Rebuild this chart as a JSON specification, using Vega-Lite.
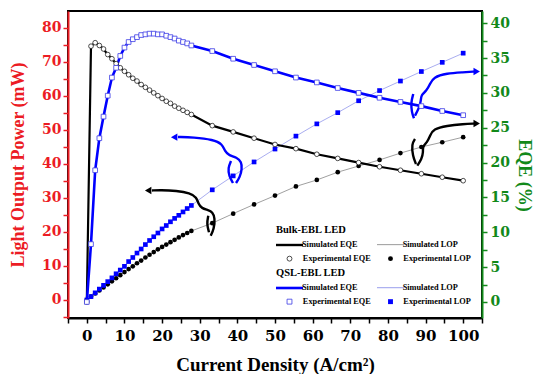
{
  "$schema": "https://vega.github.io/schema/vega-lite/v6.json",
  "width": 414,
  "height": 307,
  "padding": {"left": 9, "top": 11, "right": 0, "bottom": 0},
  "autosize": {"type": "pad"},
  "background": "white",
  "datasets": {
    "bulk": [
      {"j": 0, "eqe": 0, "lop": 0},
      {"j": 1.11, "eqe": 36.7, "lop": 1.0},
      {"j": 2.22, "eqe": 37.2, "lop": 1.9},
      {"j": 3.33, "eqe": 36.8, "lop": 2.8},
      {"j": 4.44, "eqe": 36.3, "lop": 3.7},
      {"j": 5.56, "eqe": 35.5, "lop": 4.6},
      {"j": 6.67, "eqe": 34.9, "lop": 5.5},
      {"j": 7.78, "eqe": 34.2, "lop": 6.4},
      {"j": 8.89, "eqe": 33.6, "lop": 7.3},
      {"j": 10, "eqe": 33.1, "lop": 8.2},
      {"j": 11.11, "eqe": 32.6, "lop": 9.1},
      {"j": 12.22, "eqe": 32.1, "lop": 9.9},
      {"j": 13.33, "eqe": 31.7, "lop": 10.8},
      {"j": 14.44, "eqe": 31.2, "lop": 11.6},
      {"j": 15.56, "eqe": 30.8, "lop": 12.5},
      {"j": 16.67, "eqe": 30.4, "lop": 13.3},
      {"j": 17.78, "eqe": 30.0, "lop": 14.1},
      {"j": 18.89, "eqe": 29.6, "lop": 14.9},
      {"j": 20, "eqe": 29.2, "lop": 15.6},
      {"j": 21.11, "eqe": 28.8, "lop": 16.3},
      {"j": 22.22, "eqe": 28.5, "lop": 17.0},
      {"j": 23.33, "eqe": 28.1, "lop": 17.7},
      {"j": 24.44, "eqe": 27.8, "lop": 18.4},
      {"j": 25.56, "eqe": 27.5, "lop": 19.1},
      {"j": 26.67, "eqe": 27.2, "lop": 19.7},
      {"j": 27.78, "eqe": 26.9, "lop": 20.3},
      {"j": 33.33, "eqe": 25.3, "lop": 22.6},
      {"j": 38.89, "eqe": 24.4, "lop": 25.4},
      {"j": 44.44, "eqe": 23.5, "lop": 28.1},
      {"j": 50, "eqe": 22.6, "lop": 30.7},
      {"j": 55.56, "eqe": 22.0, "lop": 33.4},
      {"j": 61.11, "eqe": 21.2, "lop": 35.3},
      {"j": 66.67, "eqe": 20.6, "lop": 37.6},
      {"j": 72.22, "eqe": 20.0, "lop": 39.4},
      {"j": 77.78, "eqe": 19.4, "lop": 41.2},
      {"j": 83.33, "eqe": 18.9, "lop": 43.2},
      {"j": 88.89, "eqe": 18.4, "lop": 45.0},
      {"j": 94.44, "eqe": 17.9, "lop": 46.4},
      {"j": 100, "eqe": 17.4, "lop": 47.9}
    ],
    "qsl": [
      {"j": 0, "eqe": 0, "lop": 0},
      {"j": 1.11, "eqe": 8.3, "lop": 1.0},
      {"j": 2.22, "eqe": 18.9, "lop": 2.1},
      {"j": 3.33, "eqe": 23.5, "lop": 3.2},
      {"j": 4.44, "eqe": 26.6, "lop": 4.3},
      {"j": 5.56, "eqe": 29.6, "lop": 5.4},
      {"j": 6.67, "eqe": 32.2, "lop": 6.5},
      {"j": 7.78, "eqe": 33.6, "lop": 7.7},
      {"j": 8.89, "eqe": 35.3, "lop": 8.8},
      {"j": 10, "eqe": 36.5, "lop": 9.9},
      {"j": 11.11, "eqe": 37.3, "lop": 11.3},
      {"j": 12.22, "eqe": 37.7, "lop": 12.5},
      {"j": 13.33, "eqe": 38.0, "lop": 13.8},
      {"j": 14.44, "eqe": 38.3, "lop": 15.0},
      {"j": 15.56, "eqe": 38.4, "lop": 16.3},
      {"j": 16.67, "eqe": 38.5, "lop": 17.5},
      {"j": 17.78, "eqe": 38.5, "lop": 18.6},
      {"j": 18.89, "eqe": 38.4, "lop": 19.7},
      {"j": 20, "eqe": 38.4, "lop": 20.9},
      {"j": 21.11, "eqe": 38.2, "lop": 21.9},
      {"j": 22.22, "eqe": 38.0, "lop": 23.0},
      {"j": 23.33, "eqe": 37.8, "lop": 24.0},
      {"j": 24.44, "eqe": 37.5, "lop": 24.9},
      {"j": 25.56, "eqe": 37.3, "lop": 25.9},
      {"j": 26.67, "eqe": 37.1, "lop": 26.9},
      {"j": 27.78, "eqe": 36.8, "lop": 27.8},
      {"j": 33.33, "eqe": 36.0, "lop": 32.4},
      {"j": 38.89, "eqe": 34.9, "lop": 36.5},
      {"j": 44.44, "eqe": 34.0, "lop": 40.6},
      {"j": 50, "eqe": 33.1, "lop": 44.4},
      {"j": 55.56, "eqe": 32.2, "lop": 48.2},
      {"j": 61.11, "eqe": 31.5, "lop": 51.8},
      {"j": 66.67, "eqe": 30.7, "lop": 55.1},
      {"j": 72.22, "eqe": 30.0, "lop": 58.6},
      {"j": 77.78, "eqe": 29.3, "lop": 61.6},
      {"j": 83.33, "eqe": 28.7, "lop": 64.4},
      {"j": 88.89, "eqe": 28.1, "lop": 67.2},
      {"j": 94.44, "eqe": 27.4, "lop": 69.9},
      {"j": 100, "eqe": 26.8, "lop": 72.6}
    ],
    "arrows": [
      {"device": "QSL", "side": "left", "seg": "curve", "i": 0, "j": 24.23, "lop": 47.94},
      {"device": "QSL", "side": "left", "seg": "curve", "i": 1, "j": 28.29, "lop": 47.85},
      {"device": "QSL", "side": "left", "seg": "curve", "i": 2, "j": 33.61, "lop": 47.15},
      {"device": "QSL", "side": "left", "seg": "curve", "i": 3, "j": 36.0, "lop": 45.88},
      {"device": "QSL", "side": "left", "seg": "curve", "i": 4, "j": 36.72, "lop": 43.68},
      {"device": "QSL", "side": "left", "seg": "curve", "i": 5, "j": 37.78, "lop": 42.5},
      {"device": "QSL", "side": "left", "seg": "curve", "i": 6, "j": 39.82, "lop": 41.97},
      {"device": "QSL", "side": "left", "seg": "curve", "i": 7, "j": 41.1, "lop": 40.59},
      {"device": "QSL", "side": "left", "seg": "curve", "i": 8, "j": 41.23, "lop": 38.53},
      {"device": "QSL", "side": "left", "seg": "curve", "i": 9, "j": 40.7, "lop": 36.18},
      {"device": "QSL", "side": "left", "seg": "curve", "i": 10, "j": 39.64, "lop": 34.41},
      {"device": "QSL", "side": "left", "seg": "loop", "i": 0, "j": 38.31, "lop": 40.88},
      {"device": "QSL", "side": "left", "seg": "loop", "i": 1, "j": 37.51, "lop": 38.82},
      {"device": "QSL", "side": "left", "seg": "loop", "i": 2, "j": 37.78, "lop": 36.47},
      {"device": "QSL", "side": "left", "seg": "loop", "i": 3, "j": 38.84, "lop": 34.41},
      {"device": "Bulk", "side": "left", "seg": "curve", "i": 0, "j": 17.32, "lop": 32.21},
      {"device": "Bulk", "side": "left", "seg": "curve", "i": 1, "j": 19.45, "lop": 32.35},
      {"device": "Bulk", "side": "left", "seg": "curve", "i": 2, "j": 23.88, "lop": 32.15},
      {"device": "Bulk", "side": "left", "seg": "curve", "i": 3, "j": 27.42, "lop": 31.47},
      {"device": "Bulk", "side": "left", "seg": "curve", "i": 4, "j": 29.2, "lop": 30.21},
      {"device": "Bulk", "side": "left", "seg": "curve", "i": 5, "j": 29.62, "lop": 28.24},
      {"device": "Bulk", "side": "left", "seg": "curve", "i": 6, "j": 30.53, "lop": 26.97},
      {"device": "Bulk", "side": "left", "seg": "curve", "i": 7, "j": 32.28, "lop": 26.47},
      {"device": "Bulk", "side": "left", "seg": "curve", "i": 8, "j": 33.4, "lop": 25.88},
      {"device": "Bulk", "side": "left", "seg": "curve", "i": 9, "j": 34.06, "lop": 24.12},
      {"device": "Bulk", "side": "left", "seg": "curve", "i": 10, "j": 33.79, "lop": 20.88},
      {"device": "Bulk", "side": "left", "seg": "curve", "i": 11, "j": 32.92, "lop": 18.91},
      {"device": "Bulk", "side": "left", "seg": "loop", "i": 0, "j": 32.28, "lop": 24.79},
      {"device": "Bulk", "side": "left", "seg": "loop", "i": 1, "j": 31.85, "lop": 22.35},
      {"device": "Bulk", "side": "left", "seg": "loop", "i": 2, "j": 32.47, "lop": 19.91},
      {"device": "QSL", "side": "right", "seg": "curve", "i": 0, "j": 103.13, "lop": 67.21},
      {"device": "QSL", "side": "right", "seg": "curve", "i": 1, "j": 100.03, "lop": 66.97},
      {"device": "QSL", "side": "right", "seg": "curve", "i": 2, "j": 95.62, "lop": 66.68},
      {"device": "QSL", "side": "right", "seg": "curve", "i": 3, "j": 92.06, "lop": 65.5},
      {"device": "QSL", "side": "right", "seg": "curve", "i": 4, "j": 91.18, "lop": 63.53},
      {"device": "QSL", "side": "right", "seg": "curve", "i": 5, "j": 90.3, "lop": 61.56},
      {"device": "QSL", "side": "right", "seg": "curve", "i": 6, "j": 88.79, "lop": 60.29},
      {"device": "QSL", "side": "right", "seg": "curve", "i": 7, "j": 88.79, "lop": 58.53},
      {"device": "QSL", "side": "right", "seg": "curve", "i": 8, "j": 88.26, "lop": 56.47},
      {"device": "QSL", "side": "right", "seg": "curve", "i": 9, "j": 87.2, "lop": 54.21},
      {"device": "QSL", "side": "right", "seg": "loop", "i": 0, "j": 86.74, "lop": 60.59},
      {"device": "QSL", "side": "right", "seg": "loop", "i": 1, "j": 86.13, "lop": 58.15},
      {"device": "QSL", "side": "right", "seg": "loop", "i": 2, "j": 86.32, "lop": 55.21},
      {"device": "QSL", "side": "right", "seg": "loop", "i": 3, "j": 86.93, "lop": 53.44},
      {"device": "Bulk", "side": "right", "seg": "curve", "i": 0, "j": 103.13, "lop": 51.91},
      {"device": "Bulk", "side": "right", "seg": "curve", "i": 1, "j": 100.03, "lop": 51.76},
      {"device": "Bulk", "side": "right", "seg": "curve", "i": 2, "j": 95.62, "lop": 51.26},
      {"device": "Bulk", "side": "right", "seg": "curve", "i": 3, "j": 92.06, "lop": 50.29},
      {"device": "Bulk", "side": "right", "seg": "curve", "i": 4, "j": 91.18, "lop": 48.32},
      {"device": "Bulk", "side": "right", "seg": "curve", "i": 5, "j": 90.46, "lop": 46.38},
      {"device": "Bulk", "side": "right", "seg": "curve", "i": 6, "j": 89.19, "lop": 45.15},
      {"device": "Bulk", "side": "right", "seg": "curve", "i": 7, "j": 89.4, "lop": 43.53},
      {"device": "Bulk", "side": "right", "seg": "curve", "i": 8, "j": 88.97, "lop": 41.47},
      {"device": "Bulk", "side": "right", "seg": "curve", "i": 9, "j": 87.8, "lop": 39.5},
      {"device": "Bulk", "side": "right", "seg": "loop", "i": 0, "j": 87.2, "lop": 47.35},
      {"device": "Bulk", "side": "right", "seg": "loop", "i": 1, "j": 86.32, "lop": 45.88},
      {"device": "Bulk", "side": "right", "seg": "loop", "i": 2, "j": 86.58, "lop": 42.44},
      {"device": "Bulk", "side": "right", "seg": "loop", "i": 3, "j": 87.46, "lop": 40.0}
    ],
    "heads": [
      {"device": "QSL", "side": "left", "j": 23.2, "lop": 47.9},
      {"device": "Bulk", "side": "left", "j": 16.3, "lop": 32.2},
      {"device": "QSL", "side": "right", "j": 103.6, "lop": 67.2},
      {"device": "Bulk", "side": "right", "j": 103.6, "lop": 51.9}
    ]
  },
  "layer": [
    {
      "encoding": {
        "x": {
          "field": "j", "type": "quantitative",
          "scale": {"domain": [-5, 105], "nice": false, "zero": false},
          "axis": {
            "values": [-5, 0, 5, 10, 15, 20, 25, 30, 35, 40, 45, 50, 55, 60, 65, 70, 75, 80, 85, 90, 95, 100, 105],
            "labelExpr": "datum.value % 10 === 0 && datum.value >= 0 && datum.value <= 100 ? datum.label : ''",
            "title": "Current Density (A/cm²)",
            "titleFont": "Liberation Serif", "titleFontSize": 19, "titleFontWeight": "bold", "titleColor": "black", "titlePadding": 12,
            "labelFont": "DejaVu Serif", "labelFontSize": 15, "labelFontWeight": "bold", "labelColor": "black", "labelPadding": 5,
            "labelFlush": false, "labelOverlap": false,
            "domainColor": "black", "domainWidth": 2, "tickColor": "black", "tickWidth": 1.5, "tickSize": 5,
            "grid": false, "zindex": 1,
            "encode": {"ticks": {"y2": {"value": {"expr": "datum.value % 10 === 0 ? 5 : 3"}}}}
          }
        },
        "y": {
          "field": "lop", "type": "quantitative",
          "scale": {"domain": [-5.3, 85], "nice": false, "zero": false},
          "axis": {
            "orient": "left",
            "values": [-5, 0, 5, 10, 15, 20, 25, 30, 35, 40, 45, 50, 55, 60, 65, 70, 75, 80],
            "labelExpr": "datum.value % 10 === 0 && datum.value >= 0 ? datum.label : ''",
            "title": "Light Output Power (mW)",
            "titleFont": "Liberation Serif", "titleFontSize": 18, "titleFontWeight": "bold", "titleColor": "#ec1c24", "titlePadding": 14,
            "labelFont": "DejaVu Serif", "labelFontSize": 14, "labelFontWeight": "bold", "labelColor": "#ec1c24", "labelPadding": 2,
            "labelOverlap": false,
            "domainColor": "#ec1c24", "domainWidth": 2, "tickColor": "#ec1c24", "tickWidth": 1.5, "tickSize": 5,
            "grid": false, "zindex": 1,
            "encode": {"ticks": {"x2": {"value": {"expr": "datum.value % 10 === 0 ? -5 : -3"}}}}
          }
        }
      },
      "layer": [
        {"data": {"name": "bulk"}, "mark": {"type": "line", "color": "#a0a0a0", "strokeWidth": 1}},
        {"data": {"name": "qsl"}, "mark": {"type": "line", "color": "#a9adf0", "strokeWidth": 1}},
        {"data": {"name": "bulk"}, "mark": {"type": "point", "shape": "circle", "filled": true, "color": "black", "size": 22, "opacity": 1}},
        {"data": {"name": "qsl"}, "mark": {"type": "point", "shape": "square", "filled": true, "color": "#0000ff", "size": 22, "opacity": 1}},
        {
          "data": {"name": "arrows"},
          "mark": {"type": "line", "interpolate": "basis", "strokeWidth": 2.4},
          "encoding": {
            "detail": [{"field": "side"}, {"field": "seg"}],
            "order": {"field": "i", "type": "quantitative"},
            "color": {"field": "device", "type": "nominal", "scale": {"domain": ["Bulk", "QSL"], "range": ["black", "#0000ff"]}, "legend": null}
          }
        },
        {
          "data": {"name": "heads"},
          "transform": [{"filter": "datum.side === 'left'"}],
          "mark": {"type": "point", "shape": "triangle-left", "filled": true, "size": 55, "opacity": 1},
          "encoding": {"color": {"field": "device", "type": "nominal", "scale": {"domain": ["Bulk", "QSL"], "range": ["black", "#0000ff"]}, "legend": null}}
        },
        {
          "data": {"name": "heads"},
          "transform": [{"filter": "datum.side === 'right'"}],
          "mark": {"type": "point", "shape": "triangle-right", "filled": true, "size": 55, "opacity": 1},
          "encoding": {"color": {"field": "device", "type": "nominal", "scale": {"domain": ["Bulk", "QSL"], "range": ["black", "#0000ff"]}, "legend": null}}
        }
      ]
    },
    {
      "encoding": {
        "x": {
          "field": "j", "type": "quantitative",
          "scale": {"domain": [-5, 105], "nice": false, "zero": false},
          "axis": {
            "values": [-5, 0, 5, 10, 15, 20, 25, 30, 35, 40, 45, 50, 55, 60, 65, 70, 75, 80, 85, 90, 95, 100, 105],
            "labelExpr": "datum.value % 10 === 0 && datum.value >= 0 && datum.value <= 100 ? datum.label : ''",
            "title": "Current Density (A/cm²)",
            "titleFont": "Liberation Serif", "titleFontSize": 19, "titleFontWeight": "bold", "titleColor": "black", "titlePadding": 12,
            "labelFont": "DejaVu Serif", "labelFontSize": 15, "labelFontWeight": "bold", "labelColor": "black", "labelPadding": 5,
            "labelFlush": false, "labelOverlap": false,
            "domainColor": "black", "domainWidth": 2, "tickColor": "black", "tickWidth": 1.5, "tickSize": 5,
            "grid": false, "zindex": 1,
            "encode": {"ticks": {"y2": {"value": {"expr": "datum.value % 10 === 0 ? 5 : 3"}}}}
          }
        },
        "y": {
          "field": "eqe", "type": "quantitative",
          "scale": {"domain": [-2.3, 41.75], "nice": false, "zero": false},
          "axis": {
            "orient": "right",
            "values": [0, 2.5, 5, 7.5, 10, 12.5, 15, 17.5, 20, 22.5, 25, 27.5, 30, 32.5, 35, 37.5, 40],
            "labelExpr": "datum.value % 5 === 0 ? datum.label : ''",
            "title": "EQE (%)",
            "titleFont": "Liberation Serif", "titleFontSize": 18, "titleFontWeight": "bold", "titleColor": "#12891a", "titlePadding": 5,
            "titleY": 164,
            "labelFont": "DejaVu Serif", "labelFontSize": 14, "labelFontWeight": "bold", "labelColor": "#12891a", "labelPadding": 3,
            "labelOverlap": false,
            "domainColor": "#12891a", "domainWidth": 2, "tickColor": "#12891a", "tickWidth": 1.5, "tickSize": 5,
            "grid": false, "zindex": 1,
            "encode": {"ticks": {"x2": {"value": {"expr": "datum.value % 5 === 0 ? 5 : 3"}}}}
          }
        }
      },
      "layer": [
        {"data": {"name": "bulk"}, "mark": {"type": "line", "color": "black", "strokeWidth": 2.2}},
        {"data": {"name": "qsl"}, "mark": {"type": "line", "color": "#0000ff", "strokeWidth": 2.6}},
        {"data": {"name": "bulk"}, "mark": {"type": "point", "shape": "circle", "filled": true, "fill": "white", "stroke": "#222222", "strokeWidth": 0.8, "size": 22, "opacity": 1}},
        {"data": {"name": "qsl"}, "mark": {"type": "point", "shape": "square", "filled": true, "fill": "white", "stroke": "#3b3be6", "strokeWidth": 0.8, "size": 22, "opacity": 1}}
      ]
    },
    {
      "data": {"values": [{"item": "Simulated EQE"}]},
      "mark": {"type": "point", "opacity": 0, "filled": false, "color": "black", "strokeWidth": 2.4},
      "encoding": {"shape": {"field": "item", "type": "nominal",
        "scale": {"domain": ["Simulated EQE"], "range": ["M-4.5,0H4.5"]},
        "legend": {"title": "Bulk-EBL LED", "orient": "none", "legendX": 208, "legendY": 214, "padding": 0,
          "symbolSize": 36, "symbolStrokeWidth": 2.4, "symbolStrokeColor": "black", "symbolOffset": 9, "labelOffset": 8, "symbolOpacity": 1,
          "labelFont": "Liberation Serif", "labelFontSize": 8.3, "labelFontWeight": "bold", "labelColor": "black",
          "titleFont": "Liberation Serif", "titleFontSize": 10.5, "titleFontWeight": "bold", "titleColor": "black", "titlePadding": 5}}}
    },
    {
      "data": {"values": [{"item": "Simulated LOP"}]},
      "mark": {"type": "point", "opacity": 0, "filled": false, "color": "#9a9a9a", "strokeWidth": 1},
      "encoding": {"shape": {"field": "item", "type": "nominal",
        "scale": {"domain": ["Simulated LOP"], "range": ["M-4.5,0H4.5"]},
        "legend": {"title": " ", "orient": "none", "legendX": 309, "legendY": 214, "padding": 0,
          "symbolSize": 36, "symbolStrokeWidth": 1, "symbolStrokeColor": "#9a9a9a", "symbolOffset": 9.35, "labelOffset": 8, "symbolOpacity": 1,
          "labelFont": "Liberation Serif", "labelFontSize": 8.3, "labelFontWeight": "bold", "labelColor": "black",
          "titleFont": "Liberation Serif", "titleFontSize": 10.5, "titleFontWeight": "bold", "titleColor": "black", "titlePadding": 5}}}
    },
    {
      "data": {"values": [{"item": "Experimental EQE"}]},
      "mark": {"type": "point", "opacity": 0, "filled": false, "color": "#222222", "strokeWidth": 0.8},
      "encoding": {"shape": {"field": "item", "type": "nominal",
        "scale": {"domain": ["Experimental EQE"], "range": ["circle"]},
        "legend": {"title": " ", "orient": "none", "legendX": 208, "legendY": 228, "padding": 0,
          "symbolSize": 24, "symbolStrokeWidth": 0.8, "symbolStrokeColor": "#222222", "symbolFillColor": "white", "symbolOffset": 9.35, "labelOffset": 9.2, "symbolOpacity": 1,
          "labelFont": "Liberation Serif", "labelFontSize": 8.3, "labelFontWeight": "bold", "labelColor": "black",
          "titleFont": "Liberation Serif", "titleFontSize": 10.5, "titleFontWeight": "bold", "titleColor": "black", "titlePadding": 5}}}
    },
    {
      "data": {"values": [{"item": "Experimental LOP"}]},
      "mark": {"type": "point", "opacity": 0, "filled": true, "color": "black"},
      "encoding": {"shape": {"field": "item", "type": "nominal",
        "scale": {"domain": ["Experimental LOP"], "range": ["circle"]},
        "legend": {"title": " ", "orient": "none", "legendX": 309, "legendY": 228, "padding": 0,
          "symbolSize": 24, "symbolStrokeWidth": 0.5, "symbolStrokeColor": "black", "symbolFillColor": "black", "symbolOffset": 9.35, "labelOffset": 8.7, "symbolOpacity": 1,
          "labelFont": "Liberation Serif", "labelFontSize": 8.3, "labelFontWeight": "bold", "labelColor": "black",
          "titleFont": "Liberation Serif", "titleFontSize": 10.5, "titleFontWeight": "bold", "titleColor": "black", "titlePadding": 5}}}
    },
    {
      "data": {"values": [{"item": "Simulated EQE"}]},
      "mark": {"type": "point", "opacity": 0, "filled": false, "color": "#0000ff", "strokeWidth": 2.6},
      "encoding": {"shape": {"field": "item", "type": "nominal",
        "scale": {"domain": ["Simulated EQE"], "range": ["M-4.5,0H4.5"]},
        "legend": {"title": "QSL-EBL LED", "orient": "none", "legendX": 208, "legendY": 257, "padding": 0,
          "symbolSize": 36, "symbolStrokeWidth": 2.6, "symbolStrokeColor": "#0000ff", "symbolOffset": 9, "labelOffset": 8, "symbolOpacity": 1,
          "labelFont": "Liberation Serif", "labelFontSize": 8.3, "labelFontWeight": "bold", "labelColor": "black",
          "titleFont": "Liberation Serif", "titleFontSize": 10.5, "titleFontWeight": "bold", "titleColor": "black", "titlePadding": 5}}}
    },
    {
      "data": {"values": [{"item": "Simulated LOP"}]},
      "mark": {"type": "point", "opacity": 0, "filled": false, "color": "#a9adf0", "strokeWidth": 1.2},
      "encoding": {"shape": {"field": "item", "type": "nominal",
        "scale": {"domain": ["Simulated LOP"], "range": ["M-4.5,0H4.5"]},
        "legend": {"title": " ", "orient": "none", "legendX": 309, "legendY": 257, "padding": 0,
          "symbolSize": 36, "symbolStrokeWidth": 1.2, "symbolStrokeColor": "#a9adf0", "symbolOffset": 9.35, "labelOffset": 8, "symbolOpacity": 1,
          "labelFont": "Liberation Serif", "labelFontSize": 8.3, "labelFontWeight": "bold", "labelColor": "black",
          "titleFont": "Liberation Serif", "titleFontSize": 10.5, "titleFontWeight": "bold", "titleColor": "black", "titlePadding": 5}}}
    },
    {
      "data": {"values": [{"item": "Experimental EQE"}]},
      "mark": {"type": "point", "opacity": 0, "filled": false, "color": "#3b3be6", "strokeWidth": 0.8},
      "encoding": {"shape": {"field": "item", "type": "nominal",
        "scale": {"domain": ["Experimental EQE"], "range": ["square"]},
        "legend": {"title": " ", "orient": "none", "legendX": 208, "legendY": 271, "padding": 0,
          "symbolSize": 24, "symbolStrokeWidth": 0.8, "symbolStrokeColor": "#3b3be6", "symbolFillColor": "white", "symbolOffset": 9.35, "labelOffset": 9.2, "symbolOpacity": 1,
          "labelFont": "Liberation Serif", "labelFontSize": 8.3, "labelFontWeight": "bold", "labelColor": "black",
          "titleFont": "Liberation Serif", "titleFontSize": 10.5, "titleFontWeight": "bold", "titleColor": "black", "titlePadding": 5}}}
    },
    {
      "data": {"values": [{"item": "Experimental LOP"}]},
      "mark": {"type": "point", "opacity": 0, "filled": true, "color": "#0000ff"},
      "encoding": {"shape": {"field": "item", "type": "nominal",
        "scale": {"domain": ["Experimental LOP"], "range": ["square"]},
        "legend": {"title": " ", "orient": "none", "legendX": 309, "legendY": 271, "padding": 0,
          "symbolSize": 24, "symbolStrokeWidth": 0.5, "symbolStrokeColor": "#0000ff", "symbolFillColor": "#0000ff", "symbolOffset": 9.35, "labelOffset": 8.7, "symbolOpacity": 1,
          "labelFont": "Liberation Serif", "labelFontSize": 8.3, "labelFontWeight": "bold", "labelColor": "black",
          "titleFont": "Liberation Serif", "titleFontSize": 10.5, "titleFontWeight": "bold", "titleColor": "black", "titlePadding": 5}}}
    }
  ],
  "resolve": {"scale": {"y": "independent", "shape": "independent"}},
  "config": {"view": {"stroke": "black", "strokeWidth": 2}}
}
